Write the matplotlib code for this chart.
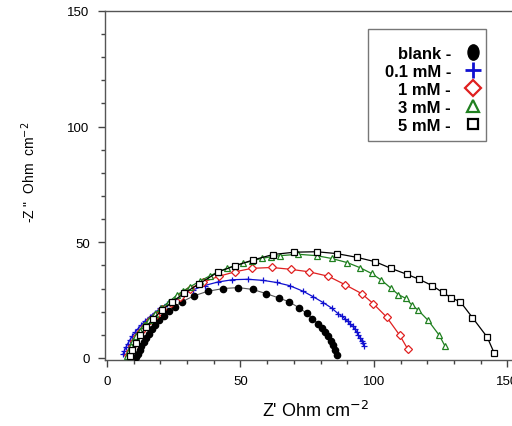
import matplotlib
matplotlib.use("Agg")
import matplotlib.pyplot as plt
from matplotlib.lines import Line2D
from matplotlib.path import Path
from matplotlib.patches import Rectangle
from matplotlib.transforms import Affine2D
from matplotlib.ticker import MultipleLocator

plt.rcParams['font.family'] = ['Liberation Sans', 'DejaVu Sans']

# ---- data ----
blank_x = [11.0, 11.6, 12.2, 12.9, 13.7, 14.6, 15.6, 16.7, 18.0, 19.6, 21.3, 23.2, 25.5, 28.0,
           32.5, 37.7, 43.6, 49.2, 54.6, 59.6, 64.4, 68.3, 71.9, 74.8, 76.9, 79.1, 80.4, 81.6,
           82.9, 83.8, 84.8, 85.4, 86.3]
blank_y = [0.5, 1.8, 3.3, 5.0, 6.8, 8.6, 10.4, 12.3, 14.2, 16.3, 18.3, 20.2, 22.2, 24.2,
           26.8, 28.8, 30.0, 30.4, 29.6, 27.8, 25.9, 24.2, 21.7, 19.3, 17.0, 14.8, 13.0, 11.2,
           9.4, 7.5, 5.7, 3.6, 1.3]

c01_x = [6.0, 6.5, 7.1, 7.8, 8.6, 9.5, 10.5, 11.6, 12.9, 14.3, 16.0, 17.9, 20.0, 22.5, 25.3,
         28.5, 32.2, 36.6, 41.5, 47.0, 52.8, 58.6, 63.5, 68.5, 73.5, 77.3, 81.0, 84.1, 86.6,
         88.0, 89.1, 90.1, 91.0, 92.0, 92.9, 93.5, 94.1, 94.8, 95.4, 95.9, 96.3]
c01_y = [1.5, 3.0, 4.6, 6.2, 7.8, 9.4, 11.0, 12.6, 14.3, 16.0, 17.8, 19.6, 21.5, 23.4, 25.4,
         27.4, 29.4, 31.3, 32.8, 33.8, 34.0, 33.5, 32.6, 31.2, 28.8, 26.4, 23.9, 21.6, 19.1,
         18.0, 17.0, 15.9, 14.8, 13.7, 12.6, 11.3, 10.0, 8.8, 7.5, 6.3, 5.1]

c1_x = [8.0, 8.6, 9.3, 10.2, 11.3, 12.6, 14.2, 16.0, 18.2, 20.8, 23.8, 27.3, 31.1, 36.1,
        42.0, 47.9, 54.2, 61.7, 68.8, 75.8, 82.9, 89.1, 95.4, 99.7, 104.7, 109.7, 112.6]
c1_y = [1.2, 3.2, 5.2, 7.3, 9.5, 11.7, 14.0, 16.3, 18.7, 21.2, 23.8, 26.4, 30.0, 32.8,
        35.3, 37.2, 38.7, 39.1, 38.3, 37.2, 35.3, 31.7, 27.8, 23.5, 17.7, 9.7, 3.9]

c3_x = [7.5, 8.1, 8.9, 9.8, 10.9, 12.2, 13.8, 15.7, 17.9, 20.4, 23.2, 26.1, 28.6, 31.1,
        34.8, 38.6, 41.6, 44.8, 47.9, 51.0, 54.5, 57.9, 61.3, 64.8, 71.7, 78.5, 84.1, 90.0,
        94.8, 99.1, 102.8, 106.2, 109.1, 112.0, 114.1, 116.6, 120.3, 124.5, 126.6]
c3_y = [1.0, 3.0, 5.1, 7.2, 9.4, 11.7, 14.1, 16.6, 19.1, 21.6, 24.2, 27.1, 29.0, 30.7,
        33.2, 35.5, 37.2, 38.7, 39.9, 40.9, 42.0, 43.0, 43.7, 44.2, 44.8, 44.2, 43.0, 41.2,
        39.0, 36.5, 33.6, 30.3, 27.4, 25.7, 23.0, 20.6, 16.2, 9.7, 5.1]

c5_x = [8.5, 9.5, 10.8, 12.5, 14.6, 17.2, 20.5, 24.5, 29.0, 34.5, 41.7, 47.9, 54.6, 62.2,
        70.2, 78.5, 86.0, 93.5, 100.4, 106.4, 112.2, 116.9, 121.9, 125.7, 128.8, 132.4,
        136.9, 142.4, 145.0]
c5_y = [0.8, 3.5, 6.5, 9.8, 13.2, 16.8, 20.5, 24.3, 28.0, 32.0, 37.2, 39.8, 42.3, 44.7,
        45.7, 45.9, 45.1, 43.5, 41.6, 38.7, 36.2, 34.0, 31.2, 28.3, 26.1, 24.2,
        17.4, 9.0, 2.2]

labels = ['blank -', '0.1 mM -', '1 mM -', '3 mM -', '5 mM -']
x_ticks = [0, 50, 100, 150]
y_ticks = [0, 50, 100, 150]

fig = plt.figure(figsize=(5.12, 4.27), dpi=100)
ax = fig.add_axes([0.205, 0.1546, 0.795, 0.818])

ax.plot(blank_x, blank_y, '-', color='#555555', lw=0.8, marker='o', ms=4.5,
        mfc='black', mec='black', zorder=3)
ax.plot(c01_x, c01_y, '-', color='#1010d0', lw=0.9, marker='+', ms=5, mew=0.9,
        mec='#1010d0', zorder=4)
ax.plot(c1_x, c1_y, '-', color='#e02020', lw=0.9, marker='D', ms=4, mfc='white',
        mec='#e02020', mew=0.9, zorder=5)
ax.plot(c3_x, c3_y, '-', color='#208020', lw=0.9, marker='^', ms=4.8, mfc='white',
        mec='#208020', mew=0.9, zorder=6)
ax.plot(c5_x, c5_y, '-', color='black', lw=0.9, marker='s', ms=4.8, mfc='white',
        mec='black', mew=0.9, zorder=7)

ax.set_xlim(-0.75, 151.7)
ax.set_ylim(-0.9, 150.1)
ax.set_xticks(x_ticks)
ax.set_yticks(y_ticks)
ax.xaxis.set_minor_locator(MultipleLocator(10))
ax.yaxis.set_minor_locator(MultipleLocator(10))
ax.tick_params(which='major', direction='out', length=5, width=1, labelsize=9.5,
               color='#444444', pad=6)
ax.tick_params(which='minor', direction='out', length=3, width=1, color='#444444')
ax.spines['right'].set_visible(False)
for s in ['left', 'bottom', 'top']:
    ax.spines[s].set_color('#555555')
    ax.spines[s].set_linewidth(1.0)

ax.set_xlabel("Z' Ohm cm$^{-2}$", fontsize=13)
ax.xaxis.set_label_coords(0.518, -0.114)
ax.set_ylabel('-Z "  Ohm  cm$^{-2}$', fontsize=10)
ax.yaxis.set_label_coords(-0.165, 0.54)

# legend box
ax.add_patch(Rectangle((0.646, 0.6275), 0.290, 0.3205, transform=ax.transAxes,
                       facecolor='white', edgecolor='#777777', lw=1.0, zorder=8))

oval = Path.unit_circle().transformed(Affine2D().scale(0.72, 1.0))
handles = [
    Line2D([], [], ls='none', marker=oval, ms=11, mfc='black', mec='black'),
    Line2D([], [], ls='none', marker='+', ms=12, mew=2, mec='#1010d0'),
    Line2D([], [], ls='none', marker='D', ms=8, mfc='white', mec='#e02020', mew=1.6),
    Line2D([], [], ls='none', marker='^', ms=9, mfc='white', mec='#208020', mew=1.6),
    Line2D([], [], ls='none', marker='s', ms=7.5, mfc='white', mec='black', mew=1.6),
]
leg = ax.legend(handles, labels, loc='upper right', bbox_to_anchor=(0.92, 0.8995),
                markerfirst=False, frameon=False,
                prop={'weight': 'bold', 'size': 12}, handlelength=0.8,
                handletextpad=0.9, labelspacing=0.18, borderpad=0.0,
                borderaxespad=0.0, alignment='right')
leg.set_zorder(9)
for t in leg.get_texts():
    t.set_ha('right')

fig.savefig('out.png', dpi=100)
